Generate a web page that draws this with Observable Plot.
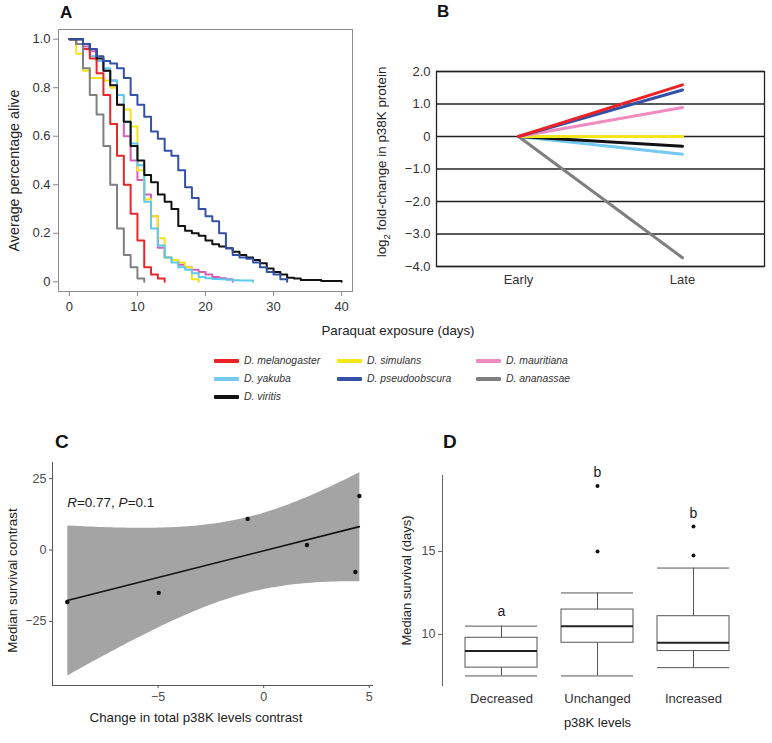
<!DOCTYPE html>
<html><head><meta charset="utf-8">
<script src="https://cdn.jsdelivr.net/npm/d3@7"></script>
<script src="https://cdn.jsdelivr.net/npm/@observablehq/plot@0.6"></script>
<style>
body{margin:0;background:#fff;}
#root{position:relative;width:772px;height:743px;overflow:hidden;font-family:"Liberation Sans",Arial,Helvetica,sans-serif;color:#222;}
#root svg{position:absolute;overflow:visible;}
.letter{position:absolute;font-weight:bold;line-height:1;color:#111;white-space:nowrap;}
.title{position:absolute;line-height:1;white-space:nowrap;color:#222;}
.sw{position:absolute;width:25px;height:4px;border-radius:1px;}
.lt{position:absolute;font-size:10.4px;font-style:italic;line-height:12px;height:12px;white-space:nowrap;color:#333;}
</style></head><body><div id="root"></div>
<script>
// ---------- data ----------
const species = ["D. melanogaster","D. simulans","D. mauritiana","D. yakuba","D. pseudoobscura","D. ananassae","D. viritis"];
const colorsA = ["#e8262b","#f4e41c","#d45fb5","#5ec8ef","#3451a8","#808080","#111111"];
const colorsB = ["#ec2227","#f5e61a","#f08cc0","#73c9f0","#3451a8","#7f7f7f","#111111"];

// Panel A: fraction alive at the start of each day (day 0, 1, 2, ...)
const survMelanogaster = [1.0,0.98,0.96,0.92,0.86,0.77,0.65,0.52,0.40,0.28,0.17,0.06,0.03,0.014,0];
const survSimulans = [1.0,0.94,0.87,0.84,0.84,0.83,0.80,0.77,0.71,0.64,0.46,0.34,0.27,0.18,0.10,0.09,0.08,0.06,0.01,0];
const survMauritiana = [1.0,1.0,0.97,0.95,0.91,0.87,0.83,0.73,0.60,0.50,0.42,0.36,0.27,0.14,0.10,0.09,0.07,0.06,0.05,0.04,0.03,0.02,0.015,0.01,0];
const survYakuba = [1.0,1.0,0.96,0.93,0.91,0.88,0.83,0.77,0.66,0.57,0.48,0.33,0.22,0.15,0.10,0.08,0.06,0.05,0.035,0.02,0.015,0.012,0.01,0.008,0.006,0.005,0.005,0];
const survPseudoobscura = [1.0,1.0,0.98,0.96,0.93,0.91,0.90,0.88,0.84,0.77,0.73,0.68,0.62,0.59,0.54,0.52,0.46,0.39,0.345,0.30,0.27,0.25,0.20,0.138,0.11,0.10,0.095,0.08,0.06,0.04,0.03,0.01,0];
const survAnanassae = [1.0,0.98,0.88,0.77,0.69,0.56,0.40,0.22,0.11,0.06,0.014,0];
const survViritis = [1.0,1.0,0.98,0.96,0.92,0.87,0.81,0.73,0.66,0.56,0.50,0.44,0.41,0.36,0.33,0.30,0.23,0.21,0.20,0.19,0.17,0.155,0.145,0.138,0.124,0.11,0.10,0.09,0.076,0.055,0.04,0.03,0.017,0.014,0.007,0.007,0.007,0.003,0.003,0.003,0];
const xTicksA = [0,10,20,30,40];
const yTicksA = [0,0.2,0.4,0.6,0.8,1.0];

// Panel B
const timepoints = ["Early","Late"];
const earlyLog2FC = [0,0,0,0,0,0,0];
const lateLog2FC = [1.59,0.0,0.89,-0.545,1.43,-3.73,-0.30];
const yTicksB = [-4,-3,-2,-1,0,1,2];

// Panel C
const p38Contrast = [-9.30,-4.97,-0.76,2.05,4.34,4.53];
const survivalContrast = [-18.2,-15.0,10.9,1.75,-7.7,18.9];
const statR = 0.77, statP = 0.1;
const xTicksC = [-5,0,5];
const yTicksC = [-25,0,25];

// Panel D
const p38Levels = ["Decreased","Unchanged","Increased"];
const whiskerLow = [7.5,7.5,8.0];
const quart1 = [8.0,9.5,9.0];
const medians = [9.0,10.5,9.5];
const quart3 = [9.8,11.5,11.1];
const whiskerHigh = [10.5,12.5,14.0];
const outlierLevel = ["Unchanged","Unchanged","Increased","Increased"];
const outlierValue = [15.0,18.95,14.75,16.5];
const groupLetters = ["a","b","b"];
const letterValue = [11.4,19.75,17.3];
const yTicksD = [10,15];

// ---------- tables ----------
const survival = [survMelanogaster,survSimulans,survMauritiana,survYakuba,survPseudoobscura,survAnanassae,survViritis];
const orderA = [2,1,3,0,5,6,4];
const tableA = orderA.flatMap(i => survival[i].map((v,d) => ({species: species[i], day: d, alive: v})));
const orderB = [5,3,6,1,2,4,0];
const tableB = orderB.flatMap(i => [
  {species: species[i], time: timepoints[0], fc: earlyLog2FC[i]},
  {species: species[i], time: timepoints[1], fc: lateLog2FC[i]}]);
const tableC = p38Contrast.map((x,i) => ({x, y: survivalContrast[i]}));
const tableD = p38Levels.map((level,i) => ({level, lo: whiskerLow[i], q1: quart1[i], med: medians[i], q3: quart3[i], hi: whiskerHigh[i], letter: groupLetters[i], ly: letterValue[i]}));
const tableOut = outlierLevel.map((level,i) => ({level, value: outlierValue[i]}));

const FONT = '"Liberation Sans", Arial, Helvetica, sans-serif';
const root = document.getElementById("root");
function place(svg, left, top){ svg.style.left = left+"px"; svg.style.top = top+"px"; root.appendChild(svg); return svg; }
const fmtB = d => d === 0 ? "0" : (d < 0 ? "\u2212" : "") + Math.abs(d).toFixed(1);
const fmtA = d => d === 0 ? "0" : d.toFixed(1);

// ---------- Panel A ----------
const plotA = Plot.plot({
  width: 360, height: 320,
  marginLeft: 58, marginRight: 8, marginTop: 29, marginBottom: 29,
  style: {fontFamily: FONT, fontSize: "13px", color: "#333", background: "transparent"},
  x: {domain: [-1.6, 41.6]},
  y: {domain: [-0.04, 1.04]},
  color: {domain: species, range: colorsA},
  marks: [
    Plot.axisX({ticks: xTicksA, tickSize: 5, tickPadding: 5, label: null, stroke: "#888", fill: "#333", fontSize: 13}),
    Plot.axisY({ticks: yTicksA, tickSize: 5, tickPadding: 3, label: null, tickFormat: fmtA, stroke: "#888", fill: "#333", fontSize: 13}),
    Plot.line(tableA, {x: "day", y: "alive", z: "species", stroke: "species", curve: "step-after", strokeWidth: 2}),
    Plot.frame({stroke: "#8c8c8c"}),
    Plot.text(["Average percentage alive"], {frameAnchor: "left", textAnchor: "middle", lineAnchor: "middle", rotate: -90, dx: -44, dy: 10, fontSize: 14.3, fill: "#222"})
  ]
});
place(plotA, 0, 0);

// ---------- Panel B ----------
const plotB = Plot.plot({
  width: 412, height: 300,
  marginLeft: 76, marginRight: 8, marginTop: 71, marginBottom: 34,
  style: {fontFamily: FONT, fontSize: "13px", color: "#333", background: "transparent"},
  x: {type: "point", domain: timepoints, padding: 0.5},
  y: {domain: [-4, 2]},
  color: {domain: species, range: colorsB},
  marks: [
    Plot.ruleY(yTicksB, {stroke: "#222", strokeWidth: 1.3}),
    Plot.frame({stroke: "#222", strokeWidth: 1.3}),
    Plot.axisY({ticks: yTicksB, tickSize: 0, tickPadding: 6, tickFormat: fmtB, label: null, fill: "#333", fontSize: 13}),
    Plot.axisX({tickSize: 0, tickPadding: 8, label: null, fill: "#333", fontSize: 13}),
    Plot.line(tableB, {x: "time", y: "fc", z: "species", stroke: "species", strokeWidth: 3}),
    Plot.text(["log2 fold-change in p38K protein"], {frameAnchor: "left", textAnchor: "middle", lineAnchor: "middle", rotate: -90, dx: -55, dy: -7, fontSize: 13.4, fill: "#222"})
  ]
});
place(plotB, 360, 0);
d3.select(plotB).selectAll("text").filter(function(){ return this.textContent === "log2 fold-change in p38K protein"; })
  .each(function(){ const t = d3.select(this); t.text(null);
    t.append("tspan").text("log");
    t.append("tspan").attr("dy", 4).attr("font-size", "9.5px").text("2");
    t.append("tspan").attr("dy", -4).text(" fold-change in p38K protein"); });

// ---------- Panel C ----------
const statLabel = `R=${statR}, P=${statP}`;
const plotC = Plot.plot({
  width: 390, height: 293,
  marginLeft: 52, marginRight: 17, marginTop: 12, marginBottom: 58,
  style: {fontFamily: FONT, fontSize: "12.5px", color: "#4d4d4d", background: "transparent"},
  x: {domain: [-10, 5.2]},
  y: {domain: [-47.45, 30.65]},
  marks: [
    Plot.linearRegressionY(tableC, {x: "x", y: "y", ci: 0.95, stroke: "#111", strokeWidth: 1.6, fill: "#a4a4a4", fillOpacity: 1}),
    Plot.dot(tableC, {x: "x", y: "y", r: 2.2, fill: "#111"}),
    Plot.ruleX([-10], {stroke: "#555"}),
    Plot.ruleY([-47.45], {stroke: "#555"}),
    Plot.axisX({ticks: xTicksC, tickSize: 3, tickPadding: 4, label: null, stroke: "#555", fill: "#4d4d4d", fontSize: 12.5}),
    Plot.axisY({ticks: yTicksC, tickSize: 3, tickPadding: 3, label: null, stroke: "#555", fill: "#4d4d4d", fontSize: 12.5}),
    Plot.text([statLabel], {frameAnchor: "top-left", textAnchor: "start", lineAnchor: "middle", dx: 14.7, dy: 39.7, fontSize: 13.5, fill: "#222"}),
    Plot.text(["Median survival contrast"], {frameAnchor: "left", textAnchor: "middle", lineAnchor: "middle", rotate: -90, dx: -39.3, dy: 6.5, fontSize: 13.4, fill: "#222"}),
    Plot.text(["Change in total p38K levels contrast"], {frameAnchor: "bottom", textAnchor: "middle", lineAnchor: "middle", dx: -17, dy: 32.7, fontSize: 13.3, fill: "#222"})
  ]
});
place(plotC, 0, 450);
d3.select(plotC).selectAll("text").filter(function(){ return this.textContent === statLabel; })
  .each(function(){ const t = d3.select(this); t.text(null);
    t.append("tspan").attr("font-style", "italic").text("R");
    t.append("tspan").text(`=${statR}, `);
    t.append("tspan").attr("font-style", "italic").text("P");
    t.append("tspan").text(`=${statP}`); });

// ---------- Panel D ----------
const plotD = Plot.plot({
  width: 382, height: 293,
  marginLeft: 52, marginRight: 20, marginTop: 25, marginBottom: 58,
  style: {fontFamily: FONT, fontSize: "12.5px", color: "#4d4d4d", background: "transparent"},
  x: {domain: p38Levels, paddingInner: 0.25, paddingOuter: 0.225},
  y: {domain: [6.925, 19.575]},
  marks: [
    Plot.frame({anchor: "left", stroke: "#666"}),
    Plot.ruleX(tableD, {x: "level", y1: "lo", y2: "q1", stroke: "#555"}),
    Plot.ruleX(tableD, {x: "level", y1: "q3", y2: "hi", stroke: "#555"}),
    Plot.tickY(tableD, {x: "level", y: "lo", stroke: "#555"}),
    Plot.tickY(tableD, {x: "level", y: "hi", stroke: "#555"}),
    Plot.barY(tableD, {x: "level", y1: "q1", y2: "q3", fill: "white", stroke: "#555"}),
    Plot.tickY(tableD, {x: "level", y: "med", stroke: "#222", strokeWidth: 2}),
    Plot.dot(tableOut, {x: "level", y: "value", r: 2, fill: "#111"}),
    Plot.text(tableD, {x: "level", y: "ly", text: "letter", fontSize: 14, fill: "#222"}),
    Plot.axisY({ticks: yTicksD, tickSize: 4, tickPadding: 3, label: null, stroke: "#666", fill: "#4d4d4d", fontSize: 12.5}),
    Plot.axisX({tickSize: 0, tickPadding: 8, label: null, fill: "#333", fontSize: 13}),
    Plot.text(["Median survival (days)"], {frameAnchor: "left", textAnchor: "middle", lineAnchor: "middle", rotate: -90, dx: -35.3, dy: 0, fontSize: 13, fill: "#222"}),
    Plot.text(["p38K levels"], {frameAnchor: "bottom", textAnchor: "middle", lineAnchor: "middle", dy: 37, fontSize: 13, fill: "#222"})
  ]
});
place(plotD, 390, 450);

// ---------- HTML titles, letters, legend ----------
function addDiv(cls, text, left, top, size, extra){ const d = document.createElement("div"); d.className = cls; d.textContent = text; d.style.left = left+"px"; d.style.top = top+"px"; d.style.fontSize = size+"px"; if (extra) Object.assign(d.style, extra); root.appendChild(d); return d; }
addDiv("letter", "A", 60, 4, 17);
addDiv("letter", "B", 437, 2.6, 17);
addDiv("letter", "C", 55, 432, 19);
addDiv("letter", "D", 443, 432, 19);
addDiv("title", "Paraquat exposure (days)", 398, 324, 13.3, {transform: "translateX(-50%)"});

const legCols = [214, 337, 476];
const legRows = [361, 379, 397];
species.forEach((name, i) => {
  const col = i % 3, row = Math.floor(i / 3);
  const sw = document.createElement("div"); sw.className = "sw";
  sw.style.left = legCols[col]+"px"; sw.style.top = (legRows[row]-2)+"px"; sw.style.background = colorsB[i];
  root.appendChild(sw);
  const t = document.createElement("div"); t.className = "lt"; t.textContent = name;
  t.style.left = (legCols[col]+30)+"px"; t.style.top = (legRows[row]-6)+"px";
  root.appendChild(t);
});
</script></body></html>
